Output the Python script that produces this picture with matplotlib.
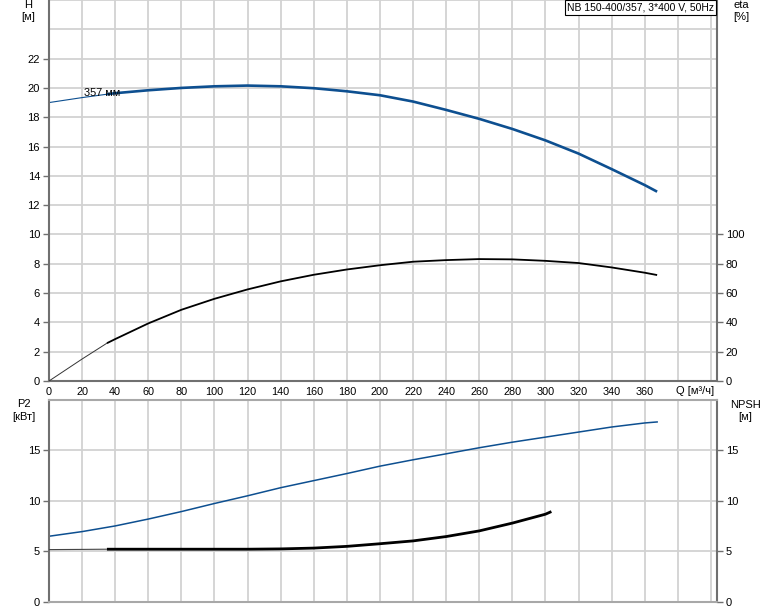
import matplotlib
matplotlib.use("Agg")
import matplotlib.pyplot as plt

plt.rcParams['font.family'] = ['Liberation Sans', 'DejaVu Sans']
plt.rcParams['font.size'] = 7.5

# ---- data ----
Q_start = 35  # start of the operating range (thin -> thick)

Q_H = [0, 20, 35, 40, 60, 80, 100, 120, 140, 160, 180, 200, 220, 240, 260, 280, 300, 320, 340, 360, 367.5]
H = [19.0, 19.34, 19.57, 19.64, 19.84, 20.0, 20.11, 20.16, 20.11, 19.98, 19.77, 19.5, 19.07, 18.5, 17.89,
     17.2, 16.42, 15.52, 14.46, 13.37, 12.92]

Q_eta = [0, 20, 35, 40, 60, 80, 100, 120, 140, 160, 180, 200, 220, 240, 260, 280, 300, 320, 340, 360, 367.5]
eta = [0, 15.0, 25.8, 28.6, 39.3, 48.6, 56.1, 62.5, 68.0, 72.5, 76.1, 79.0, 81.4, 82.5, 83.2, 83.0,
       82.0, 80.5, 77.5, 73.9, 72.3]

Q_P2 = [0, 20, 40, 60, 80, 100, 120, 140, 160, 180, 200, 220, 240, 260, 280, 300, 320, 340, 360, 367.5]
P2 = [6.5, 6.96, 7.52, 8.2, 8.94, 9.74, 10.5, 11.3, 12.0, 12.7, 13.43, 14.06, 14.65, 15.25, 15.8,
      16.3, 16.8, 17.3, 17.7, 17.8]

Q_NPSH = [0, 20, 35, 40, 60, 80, 100, 120, 140, 160, 180, 200, 220, 240, 260, 280, 300, 303.6]
NPSH = [5.18, 5.2, 5.22, 5.22, 5.22, 5.22, 5.22, 5.22, 5.25, 5.33, 5.5, 5.76, 6.04, 6.47, 7.03,
        7.8, 8.68, 8.94]

x_ticks = list(range(0, 361, 20))
x_grid = list(range(0, 401, 20))
H_ticks = list(range(0, 23, 2))
H_grid = list(range(0, 27, 2))
eta_ticks = list(range(0, 101, 20))
P_ticks = [0, 5, 10, 15]

title_text = "NB 150-400/357, 3*400 V, 50Hz"
curve_label = "357 мм"

BLUE = '#0d4f90'
GRID = '#d2d2d2'
SPINE = '#707070'
SPINE_LIGHT = '#a8a8a8'

fig = plt.figure(figsize=(7.74, 6.11), dpi=100)
L, W = 49 / 774, (716.7 - 49) / 774
ax1 = fig.add_axes([L, (611 - 381) / 611, W, 381 / 611])
ax2 = fig.add_axes([L, (611 - 602) / 611, W, (602 - 399.7) / 611])

XMAX = 403.5


def split(qs, vs):
    i = qs.index(Q_start)
    return (qs[:i + 1], vs[:i + 1]), (qs[i:], vs[i:])


def draw_grid(ax, xs, ys):
    for x in xs:
        ax.axvline(x, color=GRID, lw=1.3, zorder=0)
    for y in ys:
        ax.axhline(y, color=GRID, lw=1.3, zorder=0)


# ---- top axes ----
ax1.set_xlim(0, XMAX)
ax1.set_ylim(0, 26)
ax1.set_xticks(x_ticks)
ax1.set_xticklabels([str(v) for v in x_ticks])
ax1.set_yticks(H_ticks)
draw_grid(ax1, x_grid, H_grid)
ax1.tick_params(axis='y', length=4, width=1, color=SPINE, pad=2.5, labelsize=8)
ax1.tick_params(axis='x', length=0, pad=4, labelsize=7.8)
for s in ['left', 'bottom', 'right']:
    ax1.spines[s].set_color(SPINE)
    ax1.spines[s].set_linewidth(1.5)
ax1.spines['top'].set_visible(False)

ax1e = ax1.twinx()
ax1e.set_ylim(0, 260)
ax1e.set_yticks(eta_ticks)
ax1e.tick_params(axis='y', length=4, width=1, color=SPINE, pad=2.5, labelsize=8)
for s in ax1e.spines.values():
    s.set_visible(False)

(hq0, hv0), (hq1, hv1) = split(Q_H, H)
ax1.plot(hq0, hv0, color=BLUE, lw=0.8, solid_capstyle='butt')
ax1.plot(hq1, hv1, color=BLUE, lw=1.9, solid_capstyle='butt')
(eq0, ev0), (eq1, ev1) = split(Q_eta, eta)
ax1e.plot(eq0, ev0, color='#333333', lw=0.7, solid_capstyle='butt')
ax1e.plot(eq1, ev1, color='black', lw=1.3, solid_capstyle='butt')

ax1.text(21, 19.65, curve_label, fontsize=7.8, ha='left', va='center')
fig.text(714 / 774, 1 - 7.5 / 611, title_text, ha='right', va='center', fontsize=7.5,
         bbox=dict(boxstyle='square,pad=0.2', fc='white', ec='black', lw=0.8))

# ---- bottom axes ----
ax2.set_xlim(0, XMAX)
ax2.set_ylim(0, 20)
ax2.set_xticks(x_grid)
ax2.set_xticklabels([])
ax2.set_yticks(P_ticks)
draw_grid(ax2, x_grid, P_ticks)
ax2.tick_params(axis='x', length=0)
ax2.tick_params(axis='y', length=4, width=1, color=SPINE, pad=2.5, labelsize=8)
ax2.spines['left'].set_color(SPINE)
ax2.spines['right'].set_color(SPINE)
ax2.spines['top'].set_color(SPINE_LIGHT)
ax2.spines['bottom'].set_color(SPINE_LIGHT)
for s in ax2.spines.values():
    s.set_linewidth(1.5)

ax2n = ax2.twinx()
ax2n.set_ylim(0, 20)
ax2n.set_yticks(P_ticks)
ax2n.tick_params(axis='y', length=4, width=1, color=SPINE, pad=2.5, labelsize=8)
for s in ax2n.spines.values():
    s.set_visible(False)

ax2.plot(Q_P2, P2, color=BLUE, lw=1.1)
(nq0, nv0), (nq1, nv1) = split(Q_NPSH, NPSH)
ax2n.plot(nq0, nv0, color='#444444', lw=0.8, solid_capstyle='butt')
ax2n.plot(nq1, nv1, color='black', lw=2.0, solid_capstyle='butt')

# ---- axis labels ----
def lab(x, y, s):
    fig.text(x / 774, 1 - y / 611, s, ha='center', va='center', fontsize=8)

lab(27.7, 4.5, "H")
lab(27.7, 17.3, "[м]")
lab(741, 4.5, "eta")
lab(741, 17.3, "[%]")
lab(23.5, 404.3, "P2")
lab(23.5, 416.5, "[кВт]")
lab(745.5, 405, "NPSH")
lab(745.5, 416.7, "[м]")
lab(695, 391, "Q [м³/ч]")

fig.savefig("out.png", dpi=100)
